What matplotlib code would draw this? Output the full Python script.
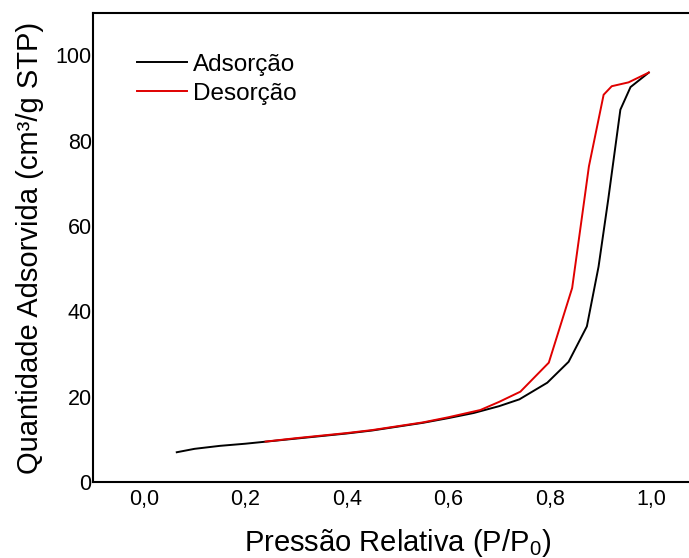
import numpy as np
import matplotlib
matplotlib.use('Agg')
import matplotlib.pyplot as plt

plt.rcParams['font.family'] = ['Liberation Sans', 'DejaVu Sans']
plt.rcParams['mathtext.default'] = 'regular'

# adsorption branch (black)
adsX = [0.065, 0.10, 0.15, 0.20, 0.25, 0.30, 0.35, 0.40, 0.45, 0.50, 0.55, 0.60,
        0.65, 0.70, 0.74, 0.795, 0.837, 0.873, 0.896, 0.915, 0.939, 0.959, 0.995]
adsY = [7.0, 7.8, 8.5, 9.0, 9.6, 10.2, 10.8, 11.4, 12.1, 13.0, 13.9, 15.0,
        16.2, 17.8, 19.4, 23.3, 28.2, 36.5, 50.5, 66.2, 87.3, 92.6, 96.0]

# desorption branch (red)
desX = [0.995, 0.955, 0.922, 0.906, 0.877, 0.868, 0.844, 0.798, 0.742, 0.70,
        0.663, 0.60, 0.55, 0.50, 0.45, 0.40, 0.35, 0.30, 0.24]
desY = [96.0, 93.7, 92.8, 90.8, 74.0, 66.2, 45.5, 28.0, 21.2, 18.8,
        16.9, 15.2, 14.0, 13.1, 12.2, 11.5, 10.9, 10.3, 9.5]

xTicks = [0.0, 0.2, 0.4, 0.6, 0.8, 1.0]
xTickLabels = ['0,0', '0,2', '0,4', '0,6', '0,8', '1,0']
yTicks = [0, 20, 40, 60, 80, 100]

fig = plt.figure(figsize=(6.89, 5.58), dpi=100)
ax = fig.add_axes([0.135, 0.136, 0.884, 0.841])

ax.plot(adsX, adsY, color='black', lw=1.4, label='Adsorção')
ax.plot(desX, desY, color='#e00000', lw=1.4, label='Desorção')

ax.set_xlim(-0.1, 1.1)
ax.set_ylim(0, 110)
ax.set_xticks(xTicks)
ax.set_xticklabels(xTickLabels)
ax.set_yticks(yTicks)
ax.tick_params(length=0, labelsize=15.5)
ax.tick_params(axis='y', pad=1)
ax.tick_params(axis='x', pad=5)
for s in ax.spines.values():
    s.set_linewidth(1.5)

ax.set_xlabel('Pressão Relativa (P/P$_0$)', fontsize=21, labelpad=12)
ax.set_ylabel('Quantidade Adsorvida (cm³/g STP)', fontsize=21, labelpad=8)

ax.legend(loc='upper left', bbox_to_anchor=(0.072, 0.913), frameon=False,
          borderpad=0, borderaxespad=0,
          fontsize=17.5, handlelength=2.05, handletextpad=0.25, labelspacing=0.3)

fig.savefig('out.png', dpi=100)
